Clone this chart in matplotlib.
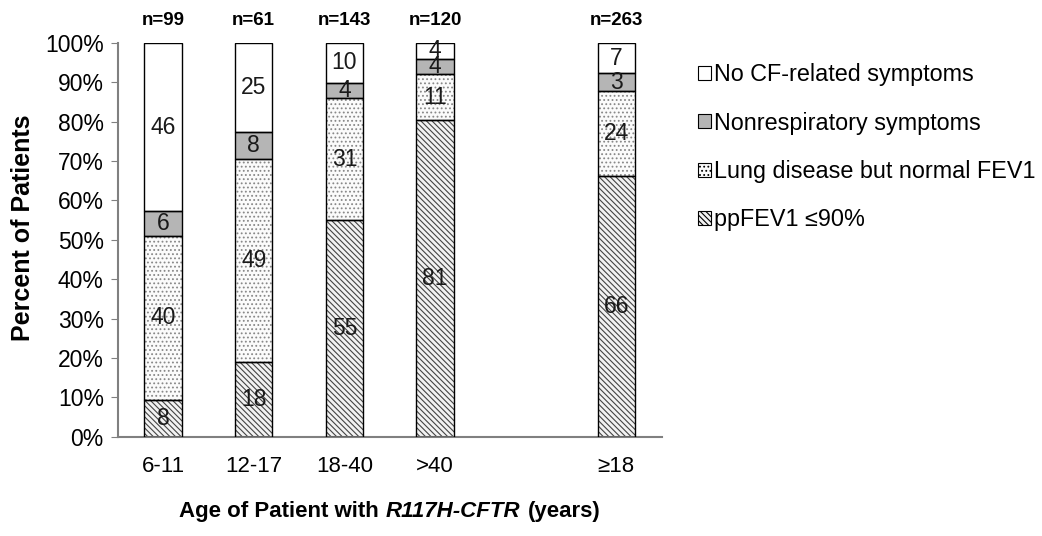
import matplotlib
matplotlib.use("Agg")
import matplotlib.pyplot as plt
from matplotlib.patches import Patch
from matplotlib.offsetbox import TextArea, HPacker, AnnotationBbox

plt.rcParams['font.family'] = ['Liberation Sans', 'DejaVu Sans']
plt.rcParams['hatch.linewidth'] = 0.8

# data: segment heights (percent) as drawn, and the numbers printed on them
groups = ["6-11", "12-17", "18-40", ">40", "≥18"]
positions = [0, 1, 2, 3, 5]
n_labels = ["n=99", "n=61", "n=143", "n=120", "n=263"]
pp_fev1 = [9.4, 19.1, 55.0, 80.4, 66.3]
lung_normal = [41.6, 51.3, 30.9, 11.6, 21.4]
nonresp = [6.2, 6.9, 4.0, 4.0, 4.6]
no_symptoms = [42.8, 22.7, 10.1, 4.0, 7.7]
pp_fev1_text = [8, 18, 55, 81, 66]
lung_normal_text = [40, 49, 31, 11, 24]
nonresp_text = [6, 8, 4, 4, 3]
no_symptoms_text = [46, 25, 10, 4, 7]

series = [
    ("ppFEV1 ≤90%", pp_fev1, pp_fev1_text,
     dict(facecolor="#f2f2f2", hatch="\\\\\\\\\\\\", edgecolor="#444444")),
    ("Lung disease but normal FEV1", lung_normal, lung_normal_text,
     dict(facecolor="#fbfbfb", hatch="....", edgecolor="#888888")),
    ("Nonrespiratory symptoms", nonresp, nonresp_text,
     dict(facecolor="#b5b5b5", hatch=None, edgecolor="#b5b5b5")),
    ("No CF-related symptoms", no_symptoms, no_symptoms_text,
     dict(facecolor="white", hatch=None, edgecolor="white")),
]

fig = plt.figure(figsize=(10.42, 5.36), dpi=100)
ax = fig.add_axes([0.113, 0.185, 0.522, 0.735])

width = 0.41
bottom = [0] * len(groups)
handles = []
for label, vals, texts, style in series:
    # hatched fill first, black outline on top
    ax.bar(positions, vals, width, bottom=bottom, facecolor=style["facecolor"],
           hatch=style["hatch"], edgecolor=style["edgecolor"], linewidth=0, zorder=2)
    ax.bar(positions, vals, width, bottom=bottom, fill=False,
           edgecolor="black", linewidth=1.0, zorder=3)
    for x, b, v, t in zip(positions, bottom, vals, texts):
        ax.text(x, b + v / 2, str(t), ha="center", va="center",
                fontsize=16.5, color="#1a1a1a", zorder=4)
    handles.append(Patch(facecolor=style["facecolor"], hatch=style["hatch"],
                         edgecolor="black", linewidth=0.8, label=label))
    bottom = [b + v for b, v in zip(bottom, vals)]

for x, n in zip(positions, n_labels):
    ax.annotate(n, (x, 100), xytext=(0, 10), textcoords="offset points",
                ha="center", va="bottom", fontsize=13.5, fontweight="bold")

ax.set_xlim(-0.5, 5.5)
ax.set_ylim(0, 100)
ax.set_yticks(range(0, 101, 10))
ax.set_yticklabels([f"{v}%" for v in range(0, 101, 10)], fontsize=16.5)
ax.set_xticks(positions)
ax.set_xticklabels(groups, fontsize=16)
ax.tick_params(axis="x", length=0, pad=14)
ax.tick_params(axis="y", length=5, color="#808080", pad=5)

for side in ["top", "right"]:
    ax.spines[side].set_visible(False)
for side in ["left", "bottom"]:
    ax.spines[side].set_color("#808080")
    ax.spines[side].set_linewidth(1.5)

ax.set_ylabel("Percent of Patients", fontsize=18, fontweight="bold")
ax.yaxis.set_label_coords(-0.152, 0.53)

# x label with the gene name in italics
bold = dict(fontsize=16, fontweight="bold")
xlabel = HPacker(children=[TextArea("Age of Patient with", textprops=bold),
                           TextArea("R117H-CFTR", textprops=dict(bold, fontstyle="italic")),
                           TextArea("(years)", textprops=bold)],
                 sep=5, align="baseline")
ax.add_artist(AnnotationBbox(xlabel, (0.5, -0.19), xycoords="axes fraction",
                             frameon=False, box_alignment=(0.5, 0.5), pad=0,
                             annotation_clip=False))

leg = fig.legend(handles=handles[::-1], loc="upper left", bbox_to_anchor=(0.661, 0.899),
                 frameon=False, fontsize=16.8, handlelength=0.55, handleheight=0.55,
                 handletextpad=0.15, labelspacing=1.08, borderaxespad=0)

fig.savefig("out.png", dpi=100)
